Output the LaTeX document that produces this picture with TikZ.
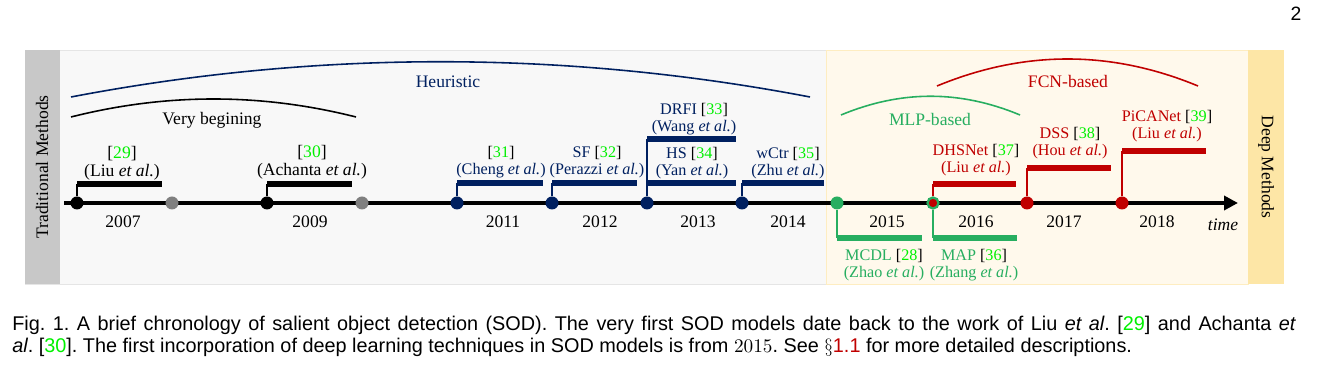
\documentclass[tikz,border=0pt]{standalone}
\usepackage{fontspec}
\setmainfont{Liberation Serif}
\newfontfamily\capfont{Liberation Sans}
\usetikzlibrary{arrows.meta, positioning, calc}

\definecolor{navy}{RGB}{0,32,96}
\definecolor{mlp}{RGB}{39,174,96}
\definecolor{fcn}{RGB}{192,0,0}
\definecolor{citegreen}{RGB}{0,240,0}
\definecolor{tradgray}{RGB}{200,200,200}
\definecolor{tradbg}{RGB}{248,248,248}
\definecolor{deepbg}{RGB}{255,249,236}
\definecolor{deepband}{RGB}{253,230,166}

\newcommand{\cit}[1]{{\color{black}[}{\color{citegreen}#1}{\color{black}]}}
\newcommand{\etal}{\textit{et al.}}

\begin{document}
\begin{tikzpicture}[x=0.02cm, y=-0.02cm,
    every node/.style={font=\fontsize{10}{10}\selectfont},
    lbl/.style={align=center, inner sep=0pt, font=\fontsize{10}{10.2}\selectfont},
    slbl/.style={lbl, font=\fontsize{9.2}{9.6}\selectfont},
    yr/.style={inner sep=0pt},
    capline/.style={anchor=west, inner sep=0pt, font=\capfont\fontsize{11.3}{12}\selectfont\frenchspacing},
    arcline/.style={line width=0.9pt},
    timeline/.style={line width=2.3pt, -{Triangle[length=2.8mm, width=2.8mm]}},
    stem/.style={line width=1.1pt},
    bar/.style={line width=3.4pt},
    dot/.style={circle, inner sep=0pt, minimum size=2.6mm}
]
\useasboundingbox (0,0) rectangle (1325,377);

% backgrounds
\path[fill=tradbg, draw=black!10] (25,50) rectangle (826,284);
\path[fill=tradgray] (25,50) rectangle (60,284);
\path[fill=deepbg, draw=deepband!70] (826,50) rectangle (1248,284);
\path[fill=deepband] (1248,50) rectangle (1284,284);
\node[rotate=90] (trad) at (42,167) {Traditional Methods};
\node[rotate=-90] (deep) at (1266,167) {Deep Methods};

% periods
\draw[arcline, navy] (71,97) .. controls (317,50) and (564,50) .. (810,97);
\draw[arcline] (71,117) .. controls (166,93) and (261,93) .. (356,117);
\draw[arcline, mlp] (841,115) .. controls (901,90) and (960,90) .. (1020,115);
\draw[arcline, fcn] (937,86) .. controls (1024,50) and (1111,50) .. (1198,86);
\node[navy] (heur) at (448,82) {Heuristic};
\node (veryb) at (212,120) {Very begining};
\node[mlp] (mlpl) at (930,119) {MLP-based};
\node[fcn] (fcnl) at (1068,81) {FCN-based};

% time axis
\coordinate (t0) at (64,203);
\coordinate (t1) at (1238,203);
\draw[timeline] (t0) -- (t1);
\foreach \yr/\x in {2007/123, 2009/310, 2011/503, 2012/600, 2013/698, 2014/788, 2015/887, 2016/976, 2017/1064, 2018/1157}
  \node[yr] (y\yr) at (\x,222) {\yr};
\node[yr, font=\fontsize{10}{10}\selectfont\itshape] (time) at (1223,225) {time};

\node[dot, fill=black] (d07a) at (77,203) {};
\node[dot, fill=black!50] (d07b) at (172,203) {};
\node[dot, fill=black] (d09a) at (267,203) {};
\node[dot, fill=black!50] (d09b) at (362,203) {};
\node[dot, fill=navy] (d11) at (457,203) {};
\node[dot, fill=navy] (d12) at (552,203) {};
\node[dot, fill=navy] (d13) at (647,203) {};
\node[dot, fill=navy] (d14) at (742,203) {};
\node[dot, fill=mlp] (d15) at (837,203) {};
\node[dot, fill=fcn, draw=mlp, line width=1.3pt, minimum size=2.2mm] (d16) at (933,203) {};
\node[dot, fill=fcn] (d17) at (1027,203) {};
\node[dot, fill=fcn] (d18) at (1122,203) {};

% brackets
\coordinate (b29) at (162,184);
\coordinate (b30) at (352,184);
\coordinate (b31) at (543,183);
\coordinate (b32) at (637,183);
\coordinate (b33) at (736,139);
\coordinate (b34) at (736,183);
\coordinate (b35) at (824,183);
\coordinate (b28) at (922,238);
\coordinate (b36) at (1017,238);
\coordinate (b37) at (1016,184);
\coordinate (b38) at (1111,168);
\coordinate (b39) at (1206,151);
\foreach \d/\b/\c in {d07a/b29/black, d09a/b30/black, d11/b31/navy, d12/b32/navy, d13/b33/navy, d13/b34/navy, d14/b35/navy, d15/b28/mlp, d16/b36/mlp, d16/b37/fcn, d17/b38/fcn, d18/b39/fcn} {
  \draw[stem, \c] (\d) -- (\d |- \b);
  \draw[bar, \c] (\d |- \b) -- (\b);
}

% methods
\node[lbl] (l29) at (122,163) {\cit{29}\\(Liu \etal)};
\node[lbl] (l30) at (312,162) {\cit{30}\\(Achanta \etal)};
\node[slbl, navy] (l31) at (501,162) {\cit{31}\\(Cheng \etal)};
\node[slbl, navy] (l32) at (597,162) {SF \cit{32}\\(Perazzi \etal)};
\node[slbl, navy] (l33) at (694,119) {DRFI \cit{33}\\(Wang \etal)};
\node[slbl, navy] (l34) at (692,163) {HS \cit{34}\\(Yan \etal)};
\node[slbl, navy] (l35) at (788,163) {wCtr \cit{35}\\(Zhu \etal)};
\node[slbl, mlp] (l28) at (884,265) {MCDL \cit{28}\\(Zhao \etal)};
\node[slbl, mlp] (l36) at (974,265) {MAP \cit{36}\\(Zhang \etal)};
\node[slbl, fcn] (l37) at (976,160) {DHSNet \cit{37}\\(Liu \etal)};
\node[slbl, fcn] (l38) at (1070,143) {DSS \cit{38}\\(Hou \etal)};
\node[slbl, fcn] (l39) at (1167,126) {PiCANet \cit{39}\\(Liu \etal)};

% caption
\node[capline] (cap1) at (12,325) {\makebox[25.68cm][s]{Fig. 1. A brief chronology of salient object detection (SOD). The very first SOD models date back to the work of Liu \textit{et al}. \cit{29} and Achanta \textit{et}}};
\node[capline] (cap2) at (12,347) {\textit{al}. \cit{30}. The first incorporation of deep learning techniques in SOD models is from $2015$. See $\S${\color{fcn}1.1} for more detailed descriptions.};
\node[font=\capfont\fontsize{11}{11}\selectfont] (pnum) at (1296,14) {2};
\end{tikzpicture}
\end{document}
